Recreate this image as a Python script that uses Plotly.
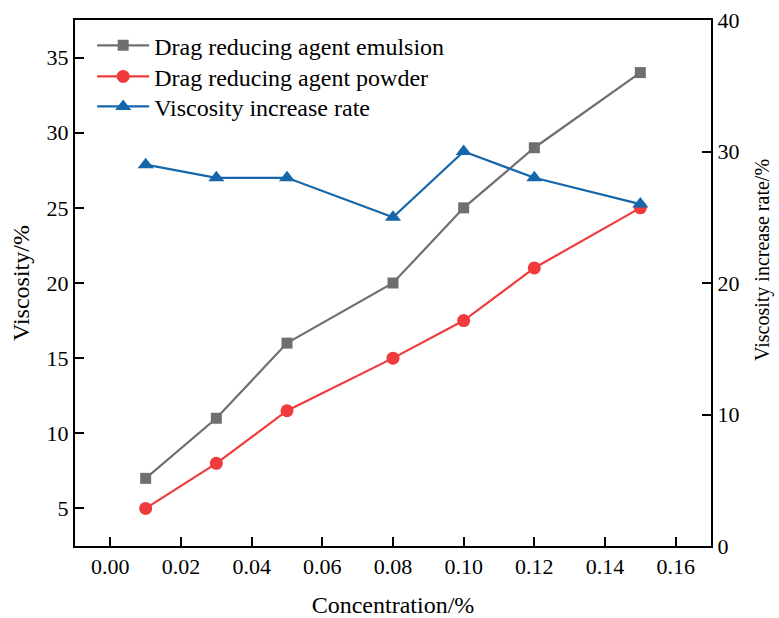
import plotly.graph_objects as go

concentration = [0.01, 0.03, 0.05, 0.08, 0.10, 0.12, 0.15]
emulsion_viscosity = [7, 11, 16, 20, 25, 29, 34]
powder_viscosity = [5, 8, 11.5, 15, 17.5, 21, 25]
viscosity_increase_rate = [29, 28, 28, 25, 30, 28, 26]

x_ticks = [0.00, 0.02, 0.04, 0.06, 0.08, 0.10, 0.12, 0.14, 0.16]
x_tick_labels = ["0.00", "0.02", "0.04", "0.06", "0.08", "0.10", "0.12", "0.14", "0.16"]
y_ticks = [5, 10, 15, 20, 25, 30, 35]
y2_ticks = [0, 10, 20, 30, 40]

GRAY = "#6f6f6f"
RED = "#ef3b3b"
BLUE = "#1566aa"
FONT = "Liberation Serif, Times New Roman, serif"

fig = go.Figure()
fig.add_trace(go.Scatter(
    x=concentration, y=emulsion_viscosity, name="Drag reducing agent emulsion",
    mode="lines+markers", line=dict(color=GRAY, width=2.2),
    marker=dict(symbol="square", size=11, color=GRAY), yaxis="y", legend="legend"))
fig.add_trace(go.Scatter(
    x=concentration, y=powder_viscosity, name="Drag reducing agent powder",
    mode="lines+markers", line=dict(color=RED, width=2.2),
    marker=dict(symbol="circle", size=13, color=RED), yaxis="y", legend="legend2"))
fig.add_trace(go.Scatter(
    x=concentration, y=viscosity_increase_rate, name="Viscosity increase rate",
    mode="lines+markers", line=dict(color=BLUE, width=2.2),
    marker=dict(symbol="triangle-up", size=14, color=BLUE), yaxis="y2", legend="legend3"))

axis_common = dict(showgrid=False, zeroline=False, showline=True, linecolor="black",
                   linewidth=2, ticks="inside", ticklen=9, tickwidth=2, tickcolor="black",
                   automargin=False,
                   tickfont=dict(family=FONT, size=22, color="black"))


def legend_at(y):
    return dict(x=0.027, y=y, xanchor="left", yanchor="middle",
                bgcolor="rgba(0,0,0,0)", font=dict(family=FONT, size=24, color="black"),
                itemwidth=52)


fig.update_layout(
    width=779, height=618,
    margin=dict(l=75, r=68, t=20, b=72),
    paper_bgcolor="white", plot_bgcolor="white",
    font=dict(family=FONT, size=22, color="black"),
    showlegend=True,
    legend=legend_at(0.951),
    legend2=legend_at(0.892),
    legend3=legend_at(0.835),
    xaxis=dict(range=[-0.01, 0.17], tickmode="array", tickvals=x_ticks, ticktext=x_tick_labels,
               mirror=True,
               title=dict(text="Concentration/%", font=dict(family=FONT, size=24), standoff=18),
               **axis_common),
    yaxis=dict(range=[2.5, 37.5], tickmode="array", tickvals=y_ticks,
               title=dict(text="Viscosity/%", font=dict(family=FONT, size=24), standoff=10),
               **axis_common),
    yaxis2=dict(range=[0, 40], tickmode="array", tickvals=y2_ticks, overlaying="y", side="right",
                **axis_common),
    annotations=[dict(text="Viscosity increase rate/%", xref="paper", yref="paper",
                      x=1.082, y=0.544, xanchor="center", yanchor="middle",
                      textangle=-90, showarrow=False,
                      font=dict(family=FONT, size=20, color="black"))],
)

fig.write_html("out.html")
